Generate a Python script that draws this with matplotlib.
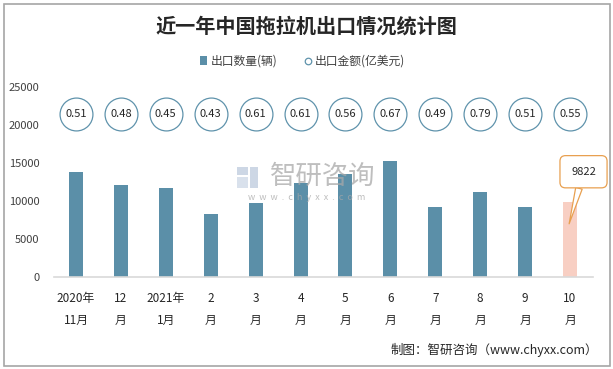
import matplotlib
matplotlib.use("Agg")
import matplotlib.pyplot as plt
from matplotlib.patches import Rectangle

plt.rcParams['font.family'] = ['Noto Sans CJK SC', 'DejaVu Sans']

categories = ["2020年\n11月", "12\n月", "2021年\n1月", "2\n月", "3\n月", "4\n月",
              "5\n月", "6\n月", "7\n月", "8\n月", "9\n月", "10\n月"]
quantity = [13800, 12100, 11700, 8300, 9700, 12350, 13550, 15250, 9200, 11200, 9200, 9822]
amount = [0.51, 0.48, 0.45, 0.43, 0.61, 0.61, 0.56, 0.67, 0.49, 0.79, 0.51, 0.55]
yticks = [0, 5000, 10000, 15000, 20000, 25000]

bar_color = "#5B8FA8"
last_color = "#F8CFC3"

fig = plt.figure(figsize=(6.13, 3.69), dpi=100)
ax = fig.add_axes([53.5/613, 1-277/369, (592.5-53.5)/613, 190/369])

x = list(range(len(categories)))
colors = [bar_color]*(len(x)-1) + [last_color]
ax.bar(x, quantity, width=0.31, color=colors, zorder=2)

circle_y = 21450
ax.scatter(x, [circle_y]*len(x), s=560, facecolor="white", edgecolor="#5F93AC", linewidth=0.9, zorder=3)
for xi, v in zip(x, amount):
    ax.text(xi, circle_y, f"{v:.2f}", ha="center", va="center", fontsize=8, color="#262626", zorder=4)

ax.set_xlim(-0.5, len(x)-0.5)
ax.set_ylim(0, 25000)
ax.set_yticks(yticks)
ax.set_yticklabels([str(t) for t in yticks], fontsize=8, color="#404040")
ax.set_xticks(x)
ax.set_xticklabels(categories, fontsize=8.5, color="#262626", linespacing=1.85)
ax.tick_params(axis='both', length=0)
ax.tick_params(axis='x', pad=11)
ax.tick_params(axis='y', pad=10)
for s in ["top", "right", "left"]:
    ax.spines[s].set_visible(False)
ax.spines["bottom"].set_color("#D9D9D9")
ax.spines["bottom"].set_linewidth(1.2)

# callout for last value
ax.annotate(f"{quantity[-1]}", xy=(x[-1]-0.02, 7000), xytext=(x[-1]+0.3, 13850),
            ha="center", va="center", fontsize=8, color="#262626", zorder=5,
            bbox=dict(boxstyle="round,pad=1.0,rounding_size=0.5", fc="white", ec="#E8A050", lw=0.9),
            arrowprops=dict(arrowstyle="wedge,tail_width=0.6", fc="white", ec="#E8A050", lw=0.9,
                            shrinkA=0, shrinkB=0))

# overlay axes in pixel coordinates
ov = fig.add_axes([0, 0, 1, 1], facecolor="none")
ov.set_axis_off()
ov.set_xlim(0, 613); ov.set_ylim(369, 0)

# title & legend
fig.text(0.5, 1-26/369, "近一年中国拖拉机出口情况统计图", ha="center", va="center",
         fontsize=14.5, fontweight="bold", color="#262626")
ov.add_patch(Rectangle((200, 56), 7, 9, fc=bar_color, ec="none"))
fig.text(211/613, 1-61/369, "出口数量(辆)", ha="left", va="center", fontsize=8.5, color="#404040")
ov.scatter([308], [61], s=22, facecolor="white", edgecolor="#5F93AC", linewidth=0.9)
fig.text(315/613, 1-61/369, "出口金额(亿美元)", ha="left", va="center", fontsize=8.5, color="#404040")

# watermark
fig.text(323/613, 1-176/369, "智研咨询", ha="center", va="center", fontsize=19, color="#A8A8A8", alpha=0.75)
fig.text(307/613, 1-197/369, "w  w  w  .  c  h  y  x  x  .  c  o  m", ha="center", va="center",
         fontsize=6.5, color="#A8A8A8", alpha=0.75)
ov.add_patch(Rectangle((237, 167), 11, 8, fc="#B8C6DA", ec="none", alpha=0.7))
ov.add_patch(Rectangle((237, 177), 11, 11, fc="#C9D5E4", ec="none", alpha=0.7))
ov.add_patch(Rectangle((250, 167), 8, 21, fc="#B8C6DA", ec="none", alpha=0.7))

# footer
fig.text(598/613, 1-350/369, "制图：智研咨询（www.chyxx.com）", ha="right", va="center", fontsize=9, color="#262626")

# border
ov.add_patch(Rectangle((3.5, 3.5), 606, 362, fill=False, ec="#A6A6A6", lw=1.2))

fig.savefig("out.png", dpi=100)
